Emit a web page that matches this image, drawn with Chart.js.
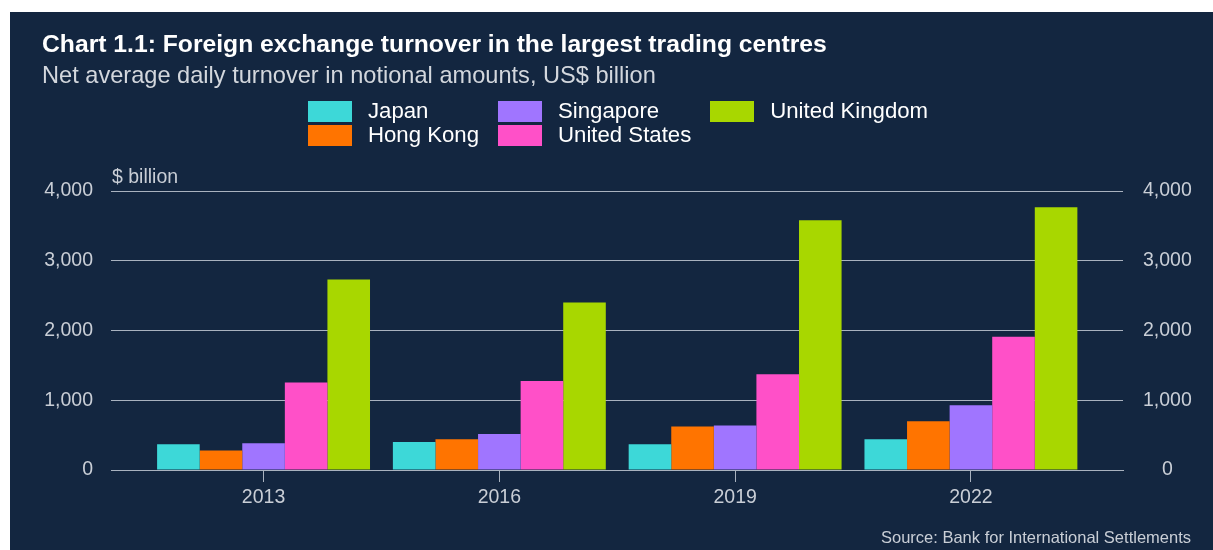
<!DOCTYPE html>
<html><head><meta charset="utf-8">
<script src="https://cdn.jsdelivr.net/npm/chart.js@4"></script>
<style>
html,body{margin:0;padding:0;background:#fff;width:1213px;height:550px;overflow:hidden;font-family:"Liberation Sans",Arial,sans-serif;}
#panel{position:absolute;left:10px;top:12px;width:1203px;height:538px;background:#132640;}
canvas{position:absolute;left:0;top:0;}
.t{position:absolute;white-space:nowrap;line-height:1;}
#legend{position:absolute;left:298px;top:87px;display:grid;grid-template-rows:repeat(2,24px);grid-auto-flow:column;column-gap:19px;}
.li{display:flex;align-items:center;height:24px;}
.sw{width:44px;height:21px;margin-right:16px;flex:none;}
.lt{font-size:22.2px;color:#fff;line-height:1;white-space:nowrap;}
</style></head>
<body>
<div id="panel">
  <canvas id="c" width="1203" height="538"></canvas>
  <div class="t" style="left:32px;top:20px;font-size:24.7px;font-weight:bold;color:#fff;">Chart 1.1: Foreign exchange turnover in the largest trading centres</div>
  <div class="t" style="left:32px;top:51.5px;font-size:23.6px;color:#d3d7dd;">Net average daily turnover in notional amounts, US$ billion</div>
  <div class="t" style="left:102px;top:154.5px;font-size:19.5px;color:#c9ced6;">$ billion</div>
  <div class="t" style="right:22px;top:517px;font-size:16.5px;color:#c9ced6;">Source: Bank for International Settlements</div>
  <div id="legend"></div>
</div>
<script>
const years = ['2013', '2016', '2019', '2022'];
const seriesNames = ['Japan', 'Hong Kong', 'Singapore', 'United States', 'United Kingdom'];
const japan = [370, 400, 370, 440];
const hongKong = [278, 442, 625, 698];
const singapore = [385, 516, 637, 930];
const unitedStates = [1256, 1275, 1371, 1910];
const unitedKingdom = [2732, 2402, 3582, 3768];
const yTicks = [0, 1000, 2000, 3000, 4000];
const colors = ['#3dd8d8', '#ff7400', '#a075ff', '#ff50c8', '#a8d700'];

const gridColor = '#a9b2bf';
const tickColor = '#c9ced6';
const seriesValues = [japan, hongKong, singapore, unitedStates, unitedKingdom];

const datasets = seriesNames.map((name, k) => ({
  label: name,
  data: years.map((yr, i) => ({x: Number(yr), y: seriesValues[k][i]})),
  backgroundColor: colors[k],
  borderWidth: 0,
  categoryPercentage: 0.903,
  barPercentage: 1,
  yAxisID: 'y'
}));

const yearNums = years.map(Number);
const step = yearNums[1] - yearNums[0];
const fontFamily = '"Liberation Sans", Arial, sans-serif';

new Chart(document.getElementById('c'), {
  type: 'bar',
  data: { datasets },
  options: {
    responsive: false,
    animation: false,
    devicePixelRatio: 1,
    layout: { padding: { top: 179, bottom: 40, left: 0, right: 0 } },
    plugins: { legend: { display: false }, tooltip: { enabled: false }, title: { display: false } },
    scales: {
      x: {
        type: 'linear',
        offset: false,
        min: yearNums[0] - 0.647 * step,
        max: yearNums[yearNums.length - 1] + 0.645 * step,
        afterBuildTicks: (axis) => { axis.ticks = yearNums.map(v => ({ value: v })); },
        afterFit: (axis) => { axis.height = 40; },
        grid: { offset: false, drawOnChartArea: false, drawTicks: true, tickLength: 12, color: gridColor, lineWidth: 1 },
        border: { display: true, color: gridColor, width: 1 },
        ticks: {
          padding: 4, color: tickColor, autoSkip: false, maxRotation: 0,
          font: { family: fontFamily, size: 19.5 },
          callback: (v) => String(v)
        }
      },
      y: {
        position: 'left',
        min: yTicks[0], max: yTicks[yTicks.length - 1],
        afterBuildTicks: (axis) => { axis.ticks = yTicks.map(v => ({ value: v })); },
        afterFit: (axis) => { axis.width = 101; },
        grid: { color: gridColor, lineWidth: 1, drawTicks: false },
        border: { display: false },
        ticks: { padding: 18, color: tickColor, font: { family: fontFamily, size: 19.5 } }
      },
      y2: {
        position: 'right',
        min: yTicks[0], max: yTicks[yTicks.length - 1],
        afterBuildTicks: (axis) => { axis.ticks = yTicks.map(v => ({ value: v })); },
        afterFit: (axis) => { axis.width = 90; },
        grid: { display: false, drawTicks: false },
        border: { display: false },
        ticks: { padding: 20, crossAlign: 'center', color: tickColor, font: { family: fontFamily, size: 19.5 } }
      }
    }
  }
});

const legend = document.getElementById('legend');
datasets.forEach(ds => {
  const item = document.createElement('div');
  item.className = 'li';
  const sw = document.createElement('div');
  sw.className = 'sw';
  sw.style.background = ds.backgroundColor;
  const tx = document.createElement('span');
  tx.className = 'lt';
  tx.textContent = ds.label;
  item.appendChild(sw); item.appendChild(tx);
  legend.appendChild(item);
});
</script>
</body></html>
